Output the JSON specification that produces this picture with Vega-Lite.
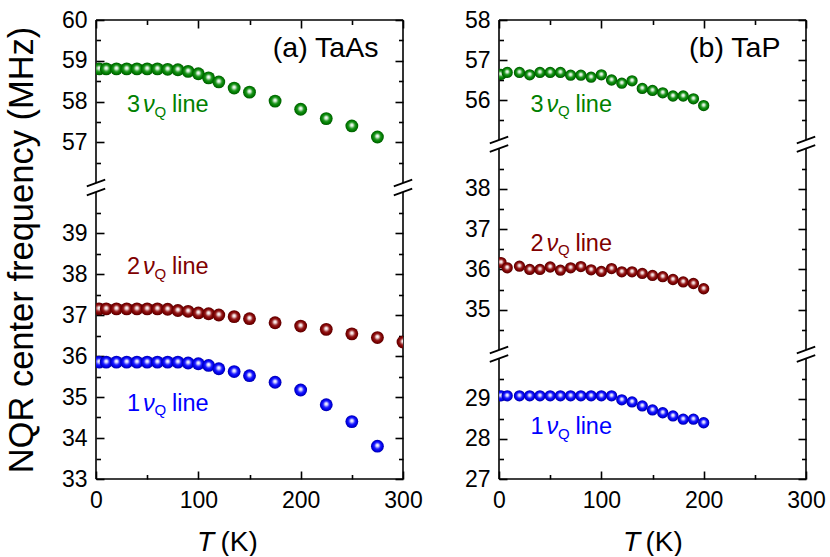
{
"$schema": "https://vega.github.io/schema/vega-lite/v6.json",
"padding": {"left": 3, "top": 9, "right": 0, "bottom": 0},
"bounds": "flush",
"spacing": 96,
"config": {"view": {"stroke": null}, "font": "Liberation Sans", "axis": {"grid": false, "domain": false, "tickColor": "black", "tickWidth": 1.6, "labelColor": "black", "titleColor": "black", "labelFont": "Liberation Sans", "titleFont": "Liberation Sans", "labelFontSize": 23, "titleFontSize": 28, "titleFontWeight": "normal", "labelFlush": false, "labelOverlap": false}},
"datasets": {
"A": [
{"s":"3","T":3,"f":58.80},{"s":"3","T":10,"f":58.80},{"s":"3","T":20,"f":58.80},{"s":"3","T":30,"f":58.80},{"s":"3","T":40,"f":58.80},{"s":"3","T":50,"f":58.80},{"s":"3","T":60,"f":58.80},{"s":"3","T":70,"f":58.79},{"s":"3","T":80,"f":58.78},{"s":"3","T":90,"f":58.74},{"s":"3","T":100,"f":58.68},{"s":"3","T":110,"f":58.58},{"s":"3","T":120,"f":58.48},{"s":"3","T":135,"f":58.33},{"s":"3","T":150,"f":58.23},{"s":"3","T":175,"f":58.01},{"s":"3","T":200,"f":57.81},{"s":"3","T":225,"f":57.58},{"s":"3","T":250,"f":57.40},{"s":"3","T":275,"f":57.13},
{"s":"2","T":3,"f":37.15},{"s":"2","T":10,"f":37.15},{"s":"2","T":20,"f":37.15},{"s":"2","T":30,"f":37.15},{"s":"2","T":40,"f":37.15},{"s":"2","T":50,"f":37.15},{"s":"2","T":60,"f":37.15},{"s":"2","T":70,"f":37.14},{"s":"2","T":80,"f":37.11},{"s":"2","T":90,"f":37.09},{"s":"2","T":100,"f":37.05},{"s":"2","T":110,"f":37.03},{"s":"2","T":120,"f":37.00},{"s":"2","T":135,"f":36.96},{"s":"2","T":150,"f":36.91},{"s":"2","T":175,"f":36.81},{"s":"2","T":200,"f":36.73},{"s":"2","T":225,"f":36.65},{"s":"2","T":250,"f":36.54},{"s":"2","T":275,"f":36.45},{"s":"2","T":300,"f":36.34},
{"s":"1","T":3,"f":35.85},{"s":"1","T":10,"f":35.85},{"s":"1","T":20,"f":35.85},{"s":"1","T":30,"f":35.85},{"s":"1","T":40,"f":35.85},{"s":"1","T":50,"f":35.85},{"s":"1","T":60,"f":35.85},{"s":"1","T":70,"f":35.85},{"s":"1","T":80,"f":35.85},{"s":"1","T":90,"f":35.83},{"s":"1","T":100,"f":35.81},{"s":"1","T":110,"f":35.77},{"s":"1","T":120,"f":35.69},{"s":"1","T":135,"f":35.62},{"s":"1","T":150,"f":35.52},{"s":"1","T":175,"f":35.36},{"s":"1","T":200,"f":35.17},{"s":"1","T":225,"f":34.81},{"s":"1","T":250,"f":34.40},{"s":"1","T":275,"f":33.80}
],
"B": [
{"s":"3","T":2,"f":56.64},{"s":"3","T":8,"f":56.69},{"s":"3","T":20,"f":56.69},{"s":"3","T":30,"f":56.63},{"s":"3","T":40,"f":56.69},{"s":"3","T":50,"f":56.69},{"s":"3","T":60,"f":56.69},{"s":"3","T":70,"f":56.62},{"s":"3","T":80,"f":56.62},{"s":"3","T":90,"f":56.57},{"s":"3","T":100,"f":56.63},{"s":"3","T":110,"f":56.50},{"s":"3","T":120,"f":56.42},{"s":"3","T":130,"f":56.48},{"s":"3","T":140,"f":56.29},{"s":"3","T":150,"f":56.24},{"s":"3","T":160,"f":56.18},{"s":"3","T":170,"f":56.10},{"s":"3","T":180,"f":56.10},{"s":"3","T":190,"f":56.03},{"s":"3","T":200,"f":55.86},
{"s":"2","T":2,"f":36.17},{"s":"2","T":8,"f":36.04},{"s":"2","T":20,"f":36.08},{"s":"2","T":30,"f":36.00},{"s":"2","T":40,"f":36.00},{"s":"2","T":50,"f":36.06},{"s":"2","T":60,"f":35.98},{"s":"2","T":70,"f":36.04},{"s":"2","T":80,"f":36.07},{"s":"2","T":90,"f":35.99},{"s":"2","T":100,"f":35.95},{"s":"2","T":110,"f":36.02},{"s":"2","T":120,"f":35.94},{"s":"2","T":130,"f":35.94},{"s":"2","T":140,"f":35.90},{"s":"2","T":150,"f":35.85},{"s":"2","T":160,"f":35.82},{"s":"2","T":170,"f":35.75},{"s":"2","T":180,"f":35.69},{"s":"2","T":190,"f":35.65},{"s":"2","T":200,"f":35.52},
{"s":"1","T":2,"f":29.07},{"s":"1","T":8,"f":29.07},{"s":"1","T":20,"f":29.07},{"s":"1","T":30,"f":29.07},{"s":"1","T":40,"f":29.07},{"s":"1","T":50,"f":29.07},{"s":"1","T":60,"f":29.07},{"s":"1","T":70,"f":29.07},{"s":"1","T":80,"f":29.07},{"s":"1","T":90,"f":29.07},{"s":"1","T":100,"f":29.07},{"s":"1","T":110,"f":29.07},{"s":"1","T":120,"f":28.97},{"s":"1","T":130,"f":28.92},{"s":"1","T":140,"f":28.82},{"s":"1","T":150,"f":28.72},{"s":"1","T":160,"f":28.65},{"s":"1","T":170,"f":28.57},{"s":"1","T":180,"f":28.49},{"s":"1","T":190,"f":28.49},{"s":"1","T":200,"f":28.40}
],
"frameA": [
{"x1":0,"x2":0,"y1":33,"y2":40},{"x1":0,"x2":0,"y1":56,"y2":60},{"x1":300,"x2":300,"y1":33,"y2":40},{"x1":300,"x2":300,"y1":56,"y2":60},{"x1":0,"x2":300,"y1":60,"y2":60},{"x1":0,"x2":300,"y1":33,"y2":33}
],
"frameB": [
{"x1":0,"x2":0,"y1":27,"y2":30},{"x1":0,"x2":0,"y1":34,"y2":39},{"x1":0,"x2":0,"y1":55,"y2":58},{"x1":300,"x2":300,"y1":27,"y2":30},{"x1":300,"x2":300,"y1":34,"y2":39},{"x1":300,"x2":300,"y1":55,"y2":58},{"x1":0,"x2":300,"y1":58,"y2":58},{"x1":0,"x2":300,"y1":27,"y2":27}
],
"brkA": [{"T":0,"f":56},{"T":0,"f":40},{"T":300,"f":56},{"T":300,"f":40}],
"brkB": [{"T":0,"f":55},{"T":0,"f":39},{"T":0,"f":34},{"T":0,"f":30},{"T":300,"f":55},{"T":300,"f":39},{"T":300,"f":34},{"T":300,"f":30}],
"labA": [{"s":"3","T":30.3,"f":57.74},{"s":"2","T":30.3,"f":38.0},{"s":"1","T":30.3,"f":34.67}],
"labB": [{"s":"3","T":30.7,"f":55.71},{"s":"2","T":30.7,"f":36.46},{"s":"1","T":30.7,"f":28.11}],
"ttlA": [{"name":"(a) TaAs","T":276,"f":59.1}],
"ttlB": [{"name":"(b) TaP","T":275,"f":57.08}]
},
"hconcat": [
{
"width": 307, "height": 459,
"resolve": {"axis": {"x": "independent", "y": "independent"}},
"layer": [
{"data": {"name": "frameA"},
 "mark": {"type": "rule", "stroke": "black", "strokeWidth": 1.6},
 "encoding": {
  "x": {"field": "x1", "type": "quantitative", "scale": {"domain": [0, 300], "nice": false, "zero": false},
        "axis": {"orient": "bottom", "values": [0, 100, 200, 300], "tickSize": -8, "labelPadding": 18, "title": "T", "titleFontStyle": "italic", "titleX": 109, "titleY": 71, "titleAlign": "center", "titleBaseline": "alphabetic"}},
  "x2": {"field": "x2"},
  "y": {"field": "y1", "type": "quantitative", "scale": {"domain": [33, 40, 56, 60], "range": [459, 172, 163, 0], "nice": false, "zero": false},
        "axis": {"orient": "left", "values": [33, 34, 35, 36, 37, 38, 39, 57, 58, 59, 60], "tickSize": -8, "labelPadding": 17, "title": "NQR center frequency (MHz)", "titleFontSize": 34.5, "titleAngle": 270, "titleX": -64, "titleY": 229.5, "titleAlign": "center", "titleBaseline": "alphabetic"}},
  "y2": {"field": "y2"}
 }},
{"data": {"name": "brkA"},
 "mark": {"type": "point", "shape": "M-1,0.36L1,-0.36", "size": 339, "filled": false, "stroke": "black", "strokeWidth": 1.8, "opacity": 1},
 "encoding": {
  "x": {"field": "T", "type": "quantitative", "axis": {"orient": "bottom", "values": [50, 150, 250], "tickSize": -4.5, "labels": false, "title": "(K)", "titleX": 124, "titleY": 71, "titleAlign": "left", "titleBaseline": "alphabetic"}},
  "y": {"field": "f", "type": "quantitative", "axis": {"orient": "left", "values": [33.5, 34.5, 35.5, 36.5, 37.5, 38.5, 39.5, 56.5, 57.5, 58.5, 59.5], "tickSize": -4.5, "labels": false, "title": null}}
 }},
{"data": {"name": "A"}, "transform": [{"filter": "datum.s == '3'"}],
 "mark": {"type": "point", "shape": "circle", "filled": true, "size": 165, "opacity": 1, "strokeWidth": 0, "clip": true,
  "fill": {"gradient": "radial", "x1": 0.5, "y1": 0.42, "r1": 0, "x2": 0.5, "y2": 0.5, "r2": 0.5, "stops": [{"offset": 0, "color": "#ffffff"}, {"offset": 0.2, "color": "#d8eed8"}, {"offset": 0.5, "color": "#1f961f"}, {"offset": 0.75, "color": "#008000"}, {"offset": 1, "color": "#005a00"}]}},
 "encoding": {
  "x": {"field": "T", "type": "quantitative", "axis": {"orient": "top", "values": [0, 100, 200, 300], "tickSize": -8, "labels": false, "title": null}},
  "y": {"field": "f", "type": "quantitative", "axis": {"orient": "right", "values": [33, 34, 35, 36, 37, 38, 39, 57, 58, 59, 60], "tickSize": -8, "labels": false, "title": null}}
 }},
{"data": {"name": "A"}, "transform": [{"filter": "datum.s == '2'"}],
 "mark": {"type": "point", "shape": "circle", "filled": true, "size": 165, "opacity": 1, "strokeWidth": 0, "clip": true,
  "fill": {"gradient": "radial", "x1": 0.5, "y1": 0.42, "r1": 0, "x2": 0.5, "y2": 0.5, "r2": 0.5, "stops": [{"offset": 0, "color": "#ffffff"}, {"offset": 0.2, "color": "#f0d8d8"}, {"offset": 0.5, "color": "#961f1f"}, {"offset": 0.75, "color": "#800000"}, {"offset": 1, "color": "#580000"}]}},
 "encoding": {
  "x": {"field": "T", "type": "quantitative", "axis": {"orient": "top", "values": [50, 150, 250], "tickSize": -4.5, "labels": false, "title": null}},
  "y": {"field": "f", "type": "quantitative", "axis": {"orient": "right", "values": [33.5, 34.5, 35.5, 36.5, 37.5, 38.5, 39.5, 56.5, 57.5, 58.5, 59.5], "tickSize": -4.5, "labels": false, "title": null}}
 }},
{"data": {"name": "A"}, "transform": [{"filter": "datum.s == '1'"}],
 "mark": {"type": "point", "shape": "circle", "filled": true, "size": 165, "opacity": 1, "strokeWidth": 0, "clip": true,
  "fill": {"gradient": "radial", "x1": 0.5, "y1": 0.42, "r1": 0, "x2": 0.5, "y2": 0.5, "r2": 0.5, "stops": [{"offset": 0, "color": "#ffffff"}, {"offset": 0.2, "color": "#d8d8ff"}, {"offset": 0.5, "color": "#2020ff"}, {"offset": 0.75, "color": "#0000f0"}, {"offset": 1, "color": "#0000a8"}]}},
 "encoding": {
  "x": {"field": "T", "type": "quantitative", "axis": null},
  "y": {"field": "f", "type": "quantitative", "axis": null}
 }},
{"data": {"name": "labA"},
 "mark": {"type": "text", "align": "left", "baseline": "alphabetic", "fontSize": 23.5},
 "encoding": {"x": {"field": "T", "type": "quantitative", "axis": null}, "y": {"field": "f", "type": "quantitative", "axis": null}, "text": {"field": "s"},
  "color": {"field": "s", "type": "nominal", "scale": {"domain": ["1", "2", "3"], "range": ["#0000ff", "#800000", "#008000"]}, "legend": null}}},
{"data": {"name": "labA"},
 "mark": {"type": "text", "align": "left", "baseline": "alphabetic", "fontSize": 23.5, "fontStyle": "italic", "dx": 16, "text": "ν"},
 "encoding": {"x": {"field": "T", "type": "quantitative", "axis": null}, "y": {"field": "f", "type": "quantitative", "axis": null},
  "color": {"field": "s", "type": "nominal", "legend": null}}},
{"data": {"name": "labA"},
 "mark": {"type": "text", "align": "left", "baseline": "alphabetic", "fontSize": 15, "dx": 27.5, "dy": 4.5, "text": "Q"},
 "encoding": {"x": {"field": "T", "type": "quantitative", "axis": null}, "y": {"field": "f", "type": "quantitative", "axis": null},
  "color": {"field": "s", "type": "nominal", "legend": null}}},
{"data": {"name": "labA"},
 "mark": {"type": "text", "align": "left", "baseline": "alphabetic", "fontSize": 23.5, "dx": 45, "text": "line"},
 "encoding": {"x": {"field": "T", "type": "quantitative", "axis": null}, "y": {"field": "f", "type": "quantitative", "axis": null},
  "color": {"field": "s", "type": "nominal", "legend": null}}},
{"data": {"name": "ttlA"},
 "mark": {"type": "text", "align": "right", "baseline": "alphabetic", "fontSize": 28.5, "color": "black"},
 "encoding": {"x": {"field": "T", "type": "quantitative", "axis": null}, "y": {"field": "f", "type": "quantitative", "axis": null}, "text": {"field": "name"}}}
]
},
{
"width": 307, "height": 459,
"resolve": {"axis": {"x": "independent", "y": "independent"}},
"layer": [
{"data": {"name": "frameB"},
 "mark": {"type": "rule", "stroke": "black", "strokeWidth": 1.6},
 "encoding": {
  "x": {"field": "x1", "type": "quantitative", "scale": {"domain": [0, 300], "nice": false, "zero": false},
        "axis": {"orient": "bottom", "values": [0, 100, 200, 300], "tickSize": -8, "labelPadding": 18, "title": "T", "titleFontStyle": "italic", "titleX": 132, "titleY": 71, "titleAlign": "center", "titleBaseline": "alphabetic"}},
  "x2": {"field": "x2"},
  "y": {"field": "y1", "type": "quantitative", "scale": {"domain": [27, 30, 34, 39, 55, 58], "range": [459, 338.5, 330, 128.5, 120, 0], "nice": false, "zero": false},
        "axis": {"orient": "left", "values": [27, 28, 29, 35, 36, 37, 38, 56, 57, 58], "tickSize": -8, "labelPadding": 17, "title": null}},
  "y2": {"field": "y2"}
 }},
{"data": {"name": "brkB"},
 "mark": {"type": "point", "shape": "M-1,0.36L1,-0.36", "size": 339, "filled": false, "stroke": "black", "strokeWidth": 1.8, "opacity": 1},
 "encoding": {
  "x": {"field": "T", "type": "quantitative", "axis": {"orient": "bottom", "values": [50, 150, 250], "tickSize": -4.5, "labels": false, "title": "(K)", "titleX": 146, "titleY": 71, "titleAlign": "left", "titleBaseline": "alphabetic"}},
  "y": {"field": "f", "type": "quantitative", "axis": {"orient": "left", "values": [27.5, 28.5, 29.5, 34.5, 35.5, 36.5, 37.5, 38.5, 55.5, 56.5, 57.5], "tickSize": -4.5, "labels": false, "title": null}}
 }},
{"data": {"name": "B"}, "transform": [{"filter": "datum.s == '3'"}],
 "mark": {"type": "point", "shape": "circle", "filled": true, "size": 128, "opacity": 1, "strokeWidth": 0, "clip": true,
  "fill": {"gradient": "radial", "x1": 0.5, "y1": 0.42, "r1": 0, "x2": 0.5, "y2": 0.5, "r2": 0.5, "stops": [{"offset": 0, "color": "#ffffff"}, {"offset": 0.2, "color": "#d8eed8"}, {"offset": 0.5, "color": "#1f961f"}, {"offset": 0.75, "color": "#008000"}, {"offset": 1, "color": "#004e00"}]}},
 "encoding": {
  "x": {"field": "T", "type": "quantitative", "axis": {"orient": "top", "values": [0, 100, 200, 300], "tickSize": -8, "labels": false, "title": null}},
  "y": {"field": "f", "type": "quantitative", "axis": {"orient": "right", "values": [27, 28, 29, 35, 36, 37, 38, 56, 57, 58], "tickSize": -8, "labels": false, "title": null}}
 }},
{"data": {"name": "B"}, "transform": [{"filter": "datum.s == '2'"}],
 "mark": {"type": "point", "shape": "circle", "filled": true, "size": 128, "opacity": 1, "strokeWidth": 0, "clip": true,
  "fill": {"gradient": "radial", "x1": 0.5, "y1": 0.42, "r1": 0, "x2": 0.5, "y2": 0.5, "r2": 0.5, "stops": [{"offset": 0, "color": "#ffffff"}, {"offset": 0.2, "color": "#f0d8d8"}, {"offset": 0.5, "color": "#961f1f"}, {"offset": 0.75, "color": "#800000"}, {"offset": 1, "color": "#4e0000"}]}},
 "encoding": {
  "x": {"field": "T", "type": "quantitative", "axis": {"orient": "top", "values": [50, 150, 250], "tickSize": -4.5, "labels": false, "title": null}},
  "y": {"field": "f", "type": "quantitative", "axis": {"orient": "right", "values": [27.5, 28.5, 29.5, 34.5, 35.5, 36.5, 37.5, 38.5, 55.5, 56.5, 57.5], "tickSize": -4.5, "labels": false, "title": null}}
 }},
{"data": {"name": "B"}, "transform": [{"filter": "datum.s == '1'"}],
 "mark": {"type": "point", "shape": "circle", "filled": true, "size": 128, "opacity": 1, "strokeWidth": 0, "clip": true,
  "fill": {"gradient": "radial", "x1": 0.5, "y1": 0.42, "r1": 0, "x2": 0.5, "y2": 0.5, "r2": 0.5, "stops": [{"offset": 0, "color": "#ffffff"}, {"offset": 0.2, "color": "#d8d8ff"}, {"offset": 0.5, "color": "#2020ff"}, {"offset": 0.75, "color": "#0000f0"}, {"offset": 1, "color": "#00009a"}]}},
 "encoding": {
  "x": {"field": "T", "type": "quantitative", "axis": null},
  "y": {"field": "f", "type": "quantitative", "axis": null}
 }},
{"data": {"name": "labB"},
 "mark": {"type": "text", "align": "left", "baseline": "alphabetic", "fontSize": 23.5},
 "encoding": {"x": {"field": "T", "type": "quantitative", "axis": null}, "y": {"field": "f", "type": "quantitative", "axis": null}, "text": {"field": "s"},
  "color": {"field": "s", "type": "nominal", "scale": {"domain": ["1", "2", "3"], "range": ["#0000ff", "#800000", "#008000"]}, "legend": null}}},
{"data": {"name": "labB"},
 "mark": {"type": "text", "align": "left", "baseline": "alphabetic", "fontSize": 23.5, "fontStyle": "italic", "dx": 16, "text": "ν"},
 "encoding": {"x": {"field": "T", "type": "quantitative", "axis": null}, "y": {"field": "f", "type": "quantitative", "axis": null},
  "color": {"field": "s", "type": "nominal", "legend": null}}},
{"data": {"name": "labB"},
 "mark": {"type": "text", "align": "left", "baseline": "alphabetic", "fontSize": 15, "dx": 27.5, "dy": 4.5, "text": "Q"},
 "encoding": {"x": {"field": "T", "type": "quantitative", "axis": null}, "y": {"field": "f", "type": "quantitative", "axis": null},
  "color": {"field": "s", "type": "nominal", "legend": null}}},
{"data": {"name": "labB"},
 "mark": {"type": "text", "align": "left", "baseline": "alphabetic", "fontSize": 23.5, "dx": 45, "text": "line"},
 "encoding": {"x": {"field": "T", "type": "quantitative", "axis": null}, "y": {"field": "f", "type": "quantitative", "axis": null},
  "color": {"field": "s", "type": "nominal", "legend": null}}},
{"data": {"name": "ttlB"},
 "mark": {"type": "text", "align": "right", "baseline": "alphabetic", "fontSize": 28.5, "color": "black"},
 "encoding": {"x": {"field": "T", "type": "quantitative", "axis": null}, "y": {"field": "f", "type": "quantitative", "axis": null}, "text": {"field": "name"}}}
]
}
]
}
